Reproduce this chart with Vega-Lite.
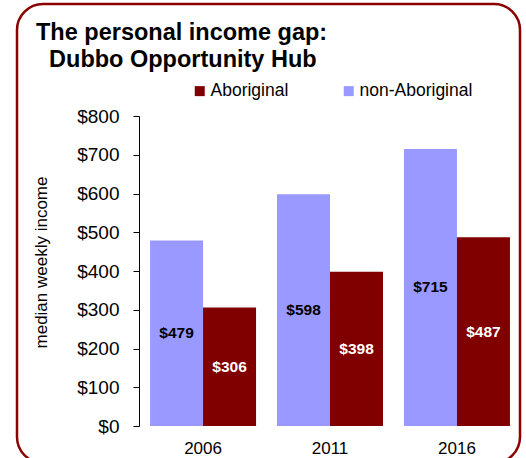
{
  "$schema": "https://vega.github.io/schema/vega-lite/v6.json",
  "autosize": {"type": "none"},
  "padding": {"left": 17, "top": 4, "right": 6, "bottom": 0},
  "width": 503,
  "height": 459,
  "background": "white",
  "title": {
    "text": ["The personal income gap:", "\u200b\u00a0\u00a0Dubbo Opportunity Hub"],
    "anchor": "start",
    "frame": "group",
    "font": "Liberation Sans",
    "fontSize": 23.5,
    "fontWeight": "bold",
    "lineHeight": 27,
    "color": "black",
    "orient": "top",
    "offset": 0,
    "baseline": "top",
    "dx": 19,
    "dy": 67
  },
  "data": {
    "values": [
      {"year": "2006", "group": "non-Aboriginal", "income": 479},
      {"year": "2006", "group": "Aboriginal", "income": 306},
      {"year": "2011", "group": "non-Aboriginal", "income": 598},
      {"year": "2011", "group": "Aboriginal", "income": 398},
      {"year": "2016", "group": "non-Aboriginal", "income": 715},
      {"year": "2016", "group": "Aboriginal", "income": 487}
    ]
  },
  "encoding": {
    "x": {
      "field": "year",
      "type": "nominal",
      "scale": {"range": [122, 504], "paddingInner": 0.165, "paddingOuter": 0.087},
      "axis": {
        "title": null,
        "labelAngle": 0,
        "domain": false,
        "ticks": false,
        "labelFont": "Liberation Sans",
        "labelFontSize": 17,
        "labelColor": "black",
        "labelPadding": 14,
        "offset": -37
      }
    },
    "xOffset": {
      "field": "group",
      "type": "nominal",
      "scale": {"domain": ["non-Aboriginal", "Aboriginal"], "paddingInner": 0, "paddingOuter": 0}
    }
  },
  "layer": [
    {
      "mark": {"type": "bar", "stroke": null},
      "encoding": {
        "y": {
          "field": "income",
          "type": "quantitative",
          "scale": {"domain": [0, 800], "range": [422, 112], "nice": false},
          "axis": {
            "title": "median weekly income",
            "titleFont": "Liberation Sans",
            "titleFontSize": 17,
            "titleFontWeight": "normal",
            "titleColor": "black",
            "titleAngle": -90,
            "titleX": -93,
            "titleY": 258,
            "titleAlign": "center",
            "titleBaseline": "alphabetic",
            "values": [0, 100, 200, 300, 400, 500, 600, 700, 800],
            "format": "$.0f",
            "grid": false,
            "offset": -122,
            "domainColor": "black",
            "domainWidth": 1,
            "tickColor": "black",
            "tickSize": 6,
            "labelFont": "Liberation Sans",
            "labelFontSize": 19,
            "labelColor": "black",
            "labelPadding": 14
          }
        },
        "color": {
          "field": "group",
          "type": "nominal",
          "scale": {"domain": ["Aboriginal", "non-Aboriginal"], "range": ["#800000", "#9999ff"]},
          "legend": {
            "title": null,
            "orient": "none",
            "legendX": 174,
            "legendY": 78,
            "direction": "horizontal",
            "symbolType": "square",
            "symbolSize": 100,
            "symbolStrokeWidth": 0,
            "labelFont": "Liberation Sans",
            "labelFontSize": 17.5,
            "labelColor": "black",
            "labelOffset": 2,
            "columnPadding": 51,
            "padding": 0
          }
        }
      }
    },
    {
      "mark": {"type": "text", "font": "Liberation Sans", "fontSize": 15.5, "fontWeight": "bold", "baseline": "middle", "align": "center"},
      "encoding": {
        "y": {
          "field": "income",
          "type": "quantitative",
          "scale": {"domain": [0, 1600], "range": [422, 112], "nice": false},
          "axis": null
        },
        "text": {"field": "income", "type": "quantitative", "format": "$.0f"},
        "color": {
          "condition": {"test": "datum.group === 'Aboriginal'", "value": "white"},
          "value": "black"
        }
      }
    }
  ],
  "resolve": {"scale": {"y": "independent"}},
  "config": {
    "view": {"stroke": "#8b0000", "strokeWidth": 2.5, "cornerRadius": 26, "fill": "white"}
  }
}
